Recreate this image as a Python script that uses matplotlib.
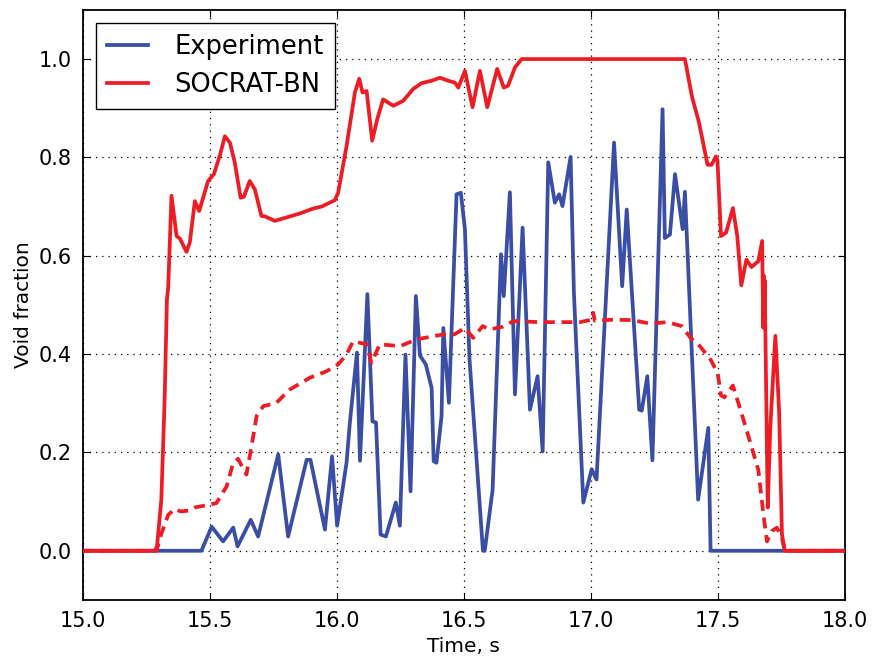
import numpy as np
import matplotlib
matplotlib.use("Agg")
import matplotlib.pyplot as plt

# Experiment (measured void fraction)
t_exp = [15.0, 15.467, 15.507, 15.552, 15.592, 15.609, 15.661, 15.690, 15.769, 15.808,
         15.881, 15.896, 15.953, 15.981, 16.001, 16.038, 16.051, 16.079, 16.091, 16.120,
         16.140, 16.154, 16.172, 16.193, 16.232, 16.248, 16.270, 16.290, 16.311, 16.327,
         16.350, 16.373, 16.381, 16.392, 16.412, 16.419, 16.441, 16.471, 16.488, 16.504,
         16.522, 16.575, 16.582, 16.613, 16.646, 16.657, 16.681, 16.701, 16.731, 16.760,
         16.790, 16.810, 16.832, 16.858, 16.875, 16.888, 16.920, 16.933, 16.970, 17.003,
         17.022, 17.091, 17.123, 17.141, 17.190, 17.200, 17.222, 17.242, 17.282, 17.291,
         17.311, 17.331, 17.361, 17.370, 17.422, 17.462, 17.471, 18.0]
v_exp = [0.0, 0.0, 0.049, 0.019, 0.047, 0.009, 0.063, 0.029, 0.196, 0.029,
         0.185, 0.185, 0.043, 0.192, 0.051, 0.179, 0.26, 0.403, 0.183, 0.522,
         0.263, 0.261, 0.033, 0.029, 0.098, 0.051, 0.399, 0.121, 0.518, 0.397,
         0.379, 0.331, 0.182, 0.179, 0.274, 0.453, 0.301, 0.725, 0.728, 0.654,
         0.39, 0.0, 0.0, 0.124, 0.603, 0.518, 0.729, 0.318, 0.657, 0.287,
         0.355, 0.202, 0.790, 0.708, 0.725, 0.701, 0.801, 0.525, 0.098, 0.166,
         0.145, 0.830, 0.538, 0.694, 0.287, 0.285, 0.355, 0.184, 0.898, 0.636,
         0.643, 0.766, 0.654, 0.730, 0.104, 0.250, 0.0, 0.0]

# SOCRAT-BN, solid curve
t_sim = [15.0, 15.283, 15.292, 15.309, 15.322, 15.331, 15.336, 15.349, 15.369, 15.382,
         15.408, 15.421, 15.441, 15.458, 15.493, 15.516, 15.540, 15.559, 15.579, 15.598,
         15.621, 15.634, 15.657, 15.677, 15.703, 15.717, 15.756, 15.802, 15.854, 15.907,
         15.940, 15.992, 16.005, 16.038, 16.071, 16.088, 16.101, 16.117, 16.139, 16.159,
         16.182, 16.222, 16.261, 16.300, 16.333, 16.373, 16.406, 16.438, 16.465, 16.478,
         16.504, 16.534, 16.563, 16.592, 16.631, 16.657, 16.674, 16.701, 16.727, 17.370,
         17.398, 17.425, 17.459, 17.475, 17.492, 17.498, 17.512, 17.532, 17.559, 17.576,
         17.592, 17.612, 17.632, 17.659, 17.674, 17.676, 17.678, 17.680, 17.682, 17.684,
         17.696, 17.706, 17.726, 17.741, 17.752, 17.763, 18.0]
v_sim = [0.0, 0.0, 0.009, 0.104, 0.308, 0.511, 0.535, 0.722, 0.640, 0.635,
         0.608, 0.627, 0.711, 0.691, 0.752, 0.766, 0.805, 0.843, 0.830, 0.790,
         0.718, 0.720, 0.752, 0.735, 0.681, 0.680, 0.671, 0.678, 0.686, 0.696,
         0.700, 0.713, 0.728, 0.823, 0.932, 0.960, 0.932, 0.935, 0.834, 0.878,
         0.918, 0.905, 0.915, 0.939, 0.951, 0.956, 0.962, 0.956, 0.952, 0.942,
         0.976, 0.902, 0.976, 0.902, 0.980, 0.942, 0.946, 0.983, 1.0, 1.0,
         0.923, 0.872, 0.785, 0.785, 0.802, 0.795, 0.640, 0.647, 0.697, 0.640,
         0.540, 0.592, 0.577, 0.589, 0.630, 0.550, 0.454, 0.560, 0.454, 0.550,
         0.088, 0.250, 0.437, 0.281, 0.033, 0.0, 0.0]

# SOCRAT-BN, dashed curve
t_dash = [15.0, 15.29, 15.310, 15.336, 15.362, 15.385, 15.421, 15.440, 15.500, 15.526,
          15.566, 15.592, 15.611, 15.644, 15.664, 15.684, 15.710, 15.762, 15.815, 15.894,
          15.959, 16.005, 16.038, 16.064, 16.117, 16.136, 16.169, 16.248, 16.314, 16.419,
          16.462, 16.504, 16.537, 16.574, 16.600, 16.655, 16.694, 16.799, 16.957, 17.003,
          17.009, 17.015, 17.088, 17.167, 17.232, 17.300, 17.357, 17.392, 17.429, 17.472,
          17.499, 17.512, 17.525, 17.559, 17.592, 17.632, 17.659, 17.679, 17.693, 17.712,
          17.732, 17.752, 17.763, 18.0]
v_dash = [0.0, 0.0, 0.036, 0.073, 0.085, 0.080, 0.082, 0.088, 0.094, 0.097,
          0.131, 0.179, 0.187, 0.155, 0.212, 0.274, 0.294, 0.301, 0.328, 0.352,
          0.365, 0.379, 0.399, 0.426, 0.420, 0.382, 0.420, 0.416, 0.430, 0.440,
          0.440, 0.453, 0.433, 0.457, 0.450, 0.456, 0.467, 0.465, 0.465, 0.470,
          0.484, 0.468, 0.470, 0.469, 0.462, 0.465, 0.457, 0.433, 0.416, 0.388,
          0.361, 0.316, 0.312, 0.336, 0.281, 0.212, 0.164, 0.074, 0.019, 0.040,
          0.047, 0.026, 0.0, 0.0]

blue = "#3a4ea6"
red = "#ee1c24"

fig = plt.figure(figsize=(8.72, 6.6), dpi=100)
ax = fig.add_axes([0.095, 0.091, 0.874, 0.894])

ax.plot(t_exp, v_exp, color=blue, lw=2.7, label="Experiment", zorder=3)
ax.plot(t_dash, v_dash, color=red, lw=2.7, dashes=(2.9, 1.8), zorder=4)
ax.plot(t_sim, v_sim, color=red, lw=2.7, label="SOCRAT-BN", zorder=5)

ax.set_xlim(15.0, 18.0)
ax.set_ylim(-0.1, 1.1)
ax.set_xticks(np.arange(15.0, 18.01, 0.5))
ax.set_yticks(np.arange(0.0, 1.01, 0.2))
ax.xaxis.set_major_formatter(plt.FormatStrFormatter("%.1f"))
ax.yaxis.set_major_formatter(plt.FormatStrFormatter("%.1f"))
ax.grid(True, color="black", linestyle=(0, (1, 4)), lw=0.9)
ax.tick_params(direction="in", top=True, right=True, length=5, width=0.8,
               labelsize=15, pad=8)
for s in ax.spines.values():
    s.set_linewidth(1.3)

ax.set_xlabel("Time, s", fontsize=14.5)
ax.set_ylabel("Void fraction", fontsize=14.5)

leg = ax.legend(loc="upper left", fontsize=18.5, fancybox=False, framealpha=1,
                edgecolor="black", handlelength=1.6, borderpad=0.45,
                labelspacing=0.45, handletextpad=1.0, borderaxespad=0.5)
leg.get_frame().set_linewidth(1.0)

fig.savefig("out.png", dpi=100)
